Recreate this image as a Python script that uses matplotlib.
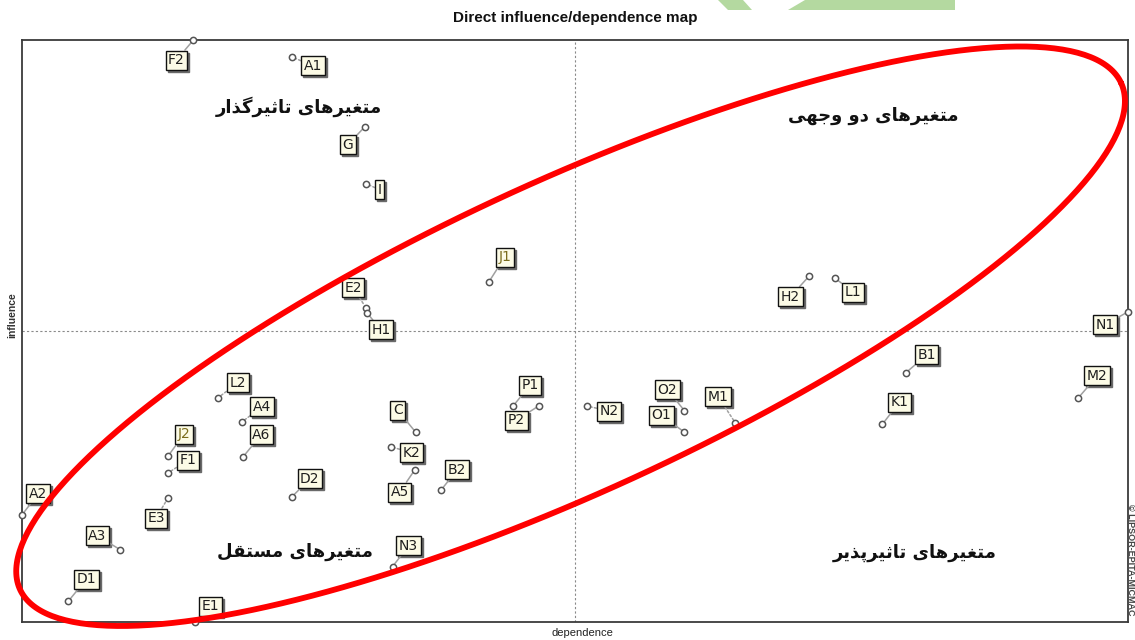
import matplotlib
matplotlib.use('Agg')
import matplotlib.pyplot as plt
from matplotlib.patches import Polygon
import numpy as np

# variables: name, dependence, influence (arbitrary 0-100 scale)
names = ['F2', 'A1', 'G', 'I', 'J1', 'E2', 'H1', 'H2', 'L1', 'N1',
         'B1', 'M2', 'K1', 'L2', 'A4', 'A6', 'J2', 'F1', 'E3', 'A2',
         'A3', 'D1', 'E1', 'D2', 'C', 'K2', 'A5', 'B2', 'N3', 'P1',
         'P2', 'N2', 'O2', 'O1', 'M1']
dependence = [15.5, 24.4, 31.0, 31.1, 42.2, 31.1, 31.2, 71.2, 73.5, 100.0,
              79.9, 95.5, 77.8, 17.7, 19.9, 20.0, 13.2, 13.2, 13.2, 0.0,
              8.9, 4.2, 15.6, 24.4, 35.6, 33.4, 35.5, 37.9, 33.5, 44.4,
              46.7, 51.1, 59.9, 59.9, 64.5]
influence = [100.0, 97.1, 85.1, 75.3, 58.4, 54.0, 53.1, 59.5, 59.1, 53.3,
             42.8, 38.5, 34.0, 38.5, 34.4, 28.4, 28.5, 25.6, 21.3, 18.4,
             12.4, 3.6, 0.0, 21.5, 32.6, 30.1, 26.1, 22.7, 9.5, 37.1,
             37.1, 37.1, 36.3, 32.6, 34.2]

# where each label box sits relative to its point (pixels, x right / y up)
label_offsets = [(-17, -20), (21, -9), (-17, -18), (14, -6), (16, 25),
                 (-13, 20), (14, -17), (-19, -21), (18, -14), (-23, -13),
                 (21, 18), (19, 22), (17, 22), (20, 15), (20, 15),
                 (18, 22), (16, 22), (20, 13), (-12, -20), (16, 21),
                 (-23, 14), (18, 22), (16, 16), (18, 18), (-18, 22),
                 (20, -6), (-15, -22), (16, 20), (16, 21), (17, 21),
                 (-22, -14), (22, -5), (-17, 21), (-23, 17), (-17, 26)]
dotted = {'A1', 'I', 'E2', 'K2', 'L2', 'A4', 'F1', 'N2', 'E3', 'M1'}
olive = {'J1', 'J2'}

quadrant_titles = ['متغیرهای تاثیرگذار', 'متغیرهای دو وجهی',
                   'متغیرهای مستقل', 'متغیرهای تاثیرپذیر']
quadrant_xy = [(25, 88.5), (77, 87), (24.7, 12), (80.7, 11.8)]

# isolated, final, initial, medial presentation forms
FORMS = {
    'ا': ('\uFE8D', '\uFE8E', None, None),
    'ت': ('\uFE95', '\uFE96', '\uFE97', '\uFE98'),
    'ث': ('\uFE99', '\uFE9A', '\uFE9B', '\uFE9C'),
    'ج': ('\uFE9D', '\uFE9E', '\uFE9F', '\uFEA0'),
    'د': ('\uFEA9', '\uFEAA', None, None),
    'ذ': ('\uFEAB', '\uFEAC', None, None),
    'ر': ('\uFEAD', '\uFEAE', None, None),
    'ز': ('\uFEAF', '\uFEB0', None, None),
    'س': ('\uFEB1', '\uFEB2', '\uFEB3', '\uFEB4'),
    'غ': ('\uFECD', '\uFECE', '\uFECF', '\uFED0'),
    'ق': ('\uFED5', '\uFED6', '\uFED7', '\uFED8'),
    'ل': ('\uFEDD', '\uFEDE', '\uFEDF', '\uFEE0'),
    'م': ('\uFEE1', '\uFEE2', '\uFEE3', '\uFEE4'),
    'ه': ('\uFEE9', '\uFEEA', '\uFEEB', '\uFEEC'),
    'و': ('\uFEED', '\uFEEE', None, None),
    '\u06CC': ('\uFBFC', '\uFBFD', '\uFBFE', '\uFBFF'),
    '\u064A': ('\uFBFC', '\uFBFD', '\uFBFE', '\uFBFF'),
    'پ': ('\uFB56', '\uFB57', '\uFB58', '\uFB59'),
    'گ': ('\uFB92', '\uFB93', '\uFB94', '\uFB95'),
}


def shape(text):
    # join letters and put them in visual (left to right) order
    chars = list(text)
    out = []
    for i, c in enumerate(chars):
        if c not in FORMS:
            out.append(c)
            continue
        iso, fin, ini, med = FORMS[c]
        prev = chars[i - 1] if i > 0 else None
        nxt = chars[i + 1] if i + 1 < len(chars) else None
        jp = prev in FORMS and FORMS[prev][2] is not None
        jn = ini is not None and nxt in FORMS
        if jp and jn:
            out.append(med)
        elif jp:
            out.append(fin)
        elif jn:
            out.append(ini)
        else:
            out.append(iso)
    return ''.join(reversed(out))


W, H = 1135, 640
fig = plt.figure(figsize=(W / 100, H / 100), dpi=100)
fig.patch.set_facecolor('white')

# faint green watermark at the top edge
fig.patches.append(Polygon([(718 / W, 1), (743 / W, 1), (752 / W, 1 - 10 / H), (728 / W, 1 - 10 / H)],
                           closed=True, transform=fig.transFigure, fc='#b4d9a0', ec='none'))
fig.patches.append(Polygon([(805 / W, 1), (955 / W, 1), (955 / W, 1 - 10 / H), (788 / W, 1 - 10 / H)],
                           closed=True, transform=fig.transFigure, fc='#b4d9a0', ec='none'))

ax_w, ax_h = 1106, 582
ax = fig.add_axes([22 / W, 18 / H, ax_w / W, ax_h / H])
ax.set_xlim(0, 100)
ax.set_ylim(0, 100)
ax.set_xticks([])
ax.set_yticks([])
for s in ax.spines.values():
    s.set_color('#3a3a3a')
    s.set_linewidth(1.3)

ax.axvline(50, color='#8a8a8a', lw=0.8, ls=(0, (2, 2)), zorder=1)
ax.axhline(50, color='#8a8a8a', lw=0.8, ls=(0, (2, 2)), zorder=1)

for i, name in enumerate(names):
    x, y = dependence[i], influence[i]
    dx, dy = label_offsets[i]
    col = '#7a6c1c' if name in olive else '#1e1e1e'
    ls = (0, (1.5, 1.5)) if name in dotted else '-'
    # shadow
    ax.annotate(name, (x, y), xytext=(dx + 2, dy - 2), textcoords='offset pixels',
                ha='center', va='center', fontsize=10, family='Liberation Sans Narrow',
                color='#6a6a6a', zorder=4,
                bbox=dict(boxstyle='square,pad=0.18', fc='#6a6a6a', ec='#6a6a6a', lw=1))
    ax.annotate(name, (x, y), xytext=(dx, dy), textcoords='offset pixels',
                ha='center', va='center', fontsize=10, family='Liberation Sans Narrow',
                color=col, zorder=5,
                bbox=dict(boxstyle='square,pad=0.18', fc='#fcfbe6', ec='#111111', lw=1),
                arrowprops=dict(arrowstyle='-', color='#a0a0a0', lw=1.1, ls=ls,
                                shrinkA=0, shrinkB=2))
    ax.plot(x, y, 'o', ms=4.5, mfc='white', mec='#555555', mew=1.1, zorder=6, clip_on=False)

for t, (qx, qy) in zip(quadrant_titles, quadrant_xy):
    ax.text(qx, qy, shape(t), ha='center', va='center', fontsize=13,
            fontweight='bold', family='DejaVu Sans', color='#111111', zorder=3)

# hand-drawn red ellipse around the diagonal (semi-axes in pixels)
ell_cx, ell_cy = 49.6, 49.1
semi_a, semi_b, tilt = 606, 155, np.deg2rad(24.7)
t = np.linspace(0, 2 * np.pi, 400)
ex = semi_a * np.cos(t) * np.cos(tilt) - semi_b * np.sin(t) * np.sin(tilt)
ey = semi_a * np.cos(t) * np.sin(tilt) + semi_b * np.sin(t) * np.cos(tilt)
ax.plot(ell_cx + ex / ax_w * 100, ell_cy + ey / ax_h * 100, color='#ff0000', lw=4.2,
        zorder=7, clip_on=False, solid_capstyle='round')

fig.text(575 / W, 1 - 18 / H, 'Direct influence/dependence map', ha='center', va='center',
         fontsize=11, fontweight='bold', family='Liberation Sans', color='#111111')
fig.text(582 / W, 1 - 633 / H, 'dependence', ha='center', va='center',
         fontsize=8, family='Liberation Sans', color='#222222')
fig.text(12 / W, 1 - 315 / H, 'influence', ha='center', va='center', rotation=90,
         fontsize=7.5, fontweight='bold', family='Liberation Sans', color='#333333')
fig.text(1131 / W, 1 - 560 / H, '© LIPSOR-EPITA-MICMAC', ha='center', va='center',
         rotation=270, fontsize=6.5, fontweight='bold', family='Liberation Sans', color='#444444')

fig.savefig('out.png', dpi=100)
